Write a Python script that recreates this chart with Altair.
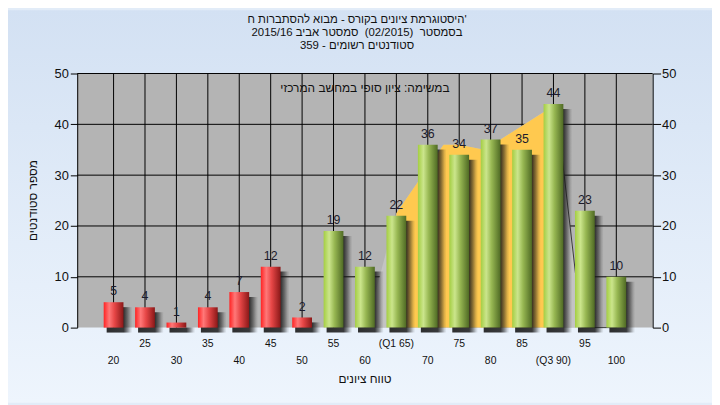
import altair as alt
import pandas as pd

FONT = "Liberation Sans"
NARROW = "Liberation Sans Narrow, Liberation Sans"

# ---- data ----
categories = [20, 25, 30, 35, 40, 45, 50, 55, 60, 65, 70, 75, 80, 85, 90, 95, 100]
counts = [5, 4, 1, 4, 7, 12, 2, 19, 12, 22, 36, 34, 37, 35, 44, 23, 10]
tick_labels = ["20", "25", "30", "35", "40", "45", "50", "55", "60", "(Q1 65)",
               "70", "75", "80", "85", "(Q3 90)", "95", "100"]
y_ticks = [0, 10, 20, 30, 40, 50]
pass_from = 55

# background distribution shape (light gray) and inter-quartile part (yellow)
shape_x = [60.2, 65, 72.5, 75, 79, 90.4, 94.5, 100]
shape_y = [0, 22.5, 36, 36, 35, 44, 0, 0]
iqr_x = [65, 72.5, 75, 79, 90]
iqr_y = [22.5, 36, 36, 35, 43.6]
edge_x = [90.4, 94.5, 100]
edge_y = [44, 0, 0]

NB = "\u00a0"
title_lines = ["היסטוגרמת ציונים בקורס - מבוא להסתברות ח'",
               "בסמסטר " + NB + "(02/2015) " + NB + "סמסטר אביב 2015/16",
               "סטודנטים רשומים - 359"]
note_text = "במשימה: ציון סופי במחשב המרכזי"
x_title = "טווח ציונים"
y_title = "מספר סטודנטים"

# ---- layout ----
W, H = 582, 257
PL, PT, PR, PB = 70, 64, 60, 76

df = pd.DataFrame({"score": categories, "count": counts,
                   "label": [str(c) for c in counts], "tick": tick_labels})
df["row"] = [i % 2 for i in range(len(categories))]
df_red = df[df["score"] < pass_from]
df_green = df[df["score"] >= pass_from]

xs = alt.Scale(domain=[15, 105], nice=False, zero=False)
ys = alt.Scale(domain=[0, 50], nice=False)

def X(field):
    return alt.X(field, type="quantitative", scale=xs, axis=None)

def Y(field):
    return alt.Y(field, type="quantitative", scale=ys, axis=None)

one = pd.DataFrame({"k": [0]})

bg_grad = alt.LinearGradient(gradient="linear", x1=0, x2=0, y1=0, y2=1, stops=[
    alt.GradientStop(color="#d3e1f3", offset=0),
    alt.GradientStop(color="#eef5fd", offset=1)])
red_grad = alt.LinearGradient(gradient="linear", x1=0, x2=1, y1=0, y2=0, stops=[
    alt.GradientStop(color="#ff2323", offset=0),
    alt.GradientStop(color="#ff7878", offset=0.28),
    alt.GradientStop(color="#e64646", offset=0.55),
    alt.GradientStop(color="#8a1818", offset=1)])
green_grad = alt.LinearGradient(gradient="linear", x1=0, x2=1, y1=0, y2=0, stops=[
    alt.GradientStop(color="#a4ce42", offset=0),
    alt.GradientStop(color="#cbe58c", offset=0.28),
    alt.GradientStop(color="#97b752", offset=0.55),
    alt.GradientStop(color="#4f6a24", offset=1)])
shadow_grad = alt.LinearGradient(gradient="linear", x1=0, x2=1, y1=0, y2=0, stops=[
    alt.GradientStop(color="rgba(25,25,25,0.9)", offset=0),
    alt.GradientStop(color="rgba(25,25,25,0.85)", offset=0.66),
    alt.GradientStop(color="rgba(25,25,25,0.5)", offset=0.8),
    alt.GradientStop(color="rgba(25,25,25,0.15)", offset=0.92),
    alt.GradientStop(color="rgba(25,25,25,0)", offset=1)])

bg = alt.Chart(one).mark_rect(color=bg_grad).encode(
    x=alt.value(-PL), x2=alt.value(W + PR), y=alt.value(-PT), y2=alt.value(H + PB))
plot_bg = alt.Chart(one).mark_rect(color="#b4b4b4").encode(
    x=alt.value(0), x2=alt.value(W), y=alt.value(0), y2=alt.value(H))

hgrid = alt.Chart(pd.DataFrame({"v": y_ticks[1:]})).mark_rule(
    color="black", strokeWidth=1).encode(y=Y("v"))
vgrid = alt.Chart(df).mark_rule(color="black", strokeWidth=1).encode(x=X("score"))

shape = alt.Chart(pd.DataFrame({"x": shape_x, "y": shape_y})).mark_area(
    color="#c3c3c3").encode(x=X("x"), y=Y("y"))
iqr = alt.Chart(pd.DataFrame({"x": iqr_x, "y": iqr_y})).mark_area(
    color="#ffc94f").encode(x=X("x"), y=Y("y"))
edge = alt.Chart(pd.DataFrame({"x": edge_x, "y": edge_y})).mark_line(
    color="#3a3a3a", strokeWidth=1).encode(x=X("x"), y=Y("y"))

shadow = alt.Chart(df).mark_bar(size=26, xOffset=6, yOffset=5, y2Offset=4,
                                color=shadow_grad).encode(x=X("score"), y=Y("count"))
red_bars = alt.Chart(df_red).mark_bar(size=20, color=red_grad).encode(
    x=X("score"), y=Y("count"))
green_bars = alt.Chart(df_green).mark_bar(size=20, color=green_grad).encode(
    x=X("score"), y=Y("count"))

values = alt.Chart(df).mark_text(font=NARROW, fontSize=12.5, color="#1c1c2c",
                                 baseline="alphabetic", dy=-7).encode(
    x=X("score"), y=Y("count"), text="label:N")

ticks_up = alt.Chart(df[df["row"] == 1]).mark_text(
    font=FONT, fontSize=10.5, color="#111", baseline="middle").encode(
    x=X("score"), y=alt.value(H + 16.5), text="tick:N")
ticks_low = alt.Chart(df[df["row"] == 0]).mark_text(
    font=FONT, fontSize=10.5, color="#111", baseline="middle").encode(
    x=X("score"), y=alt.value(H + 33.5), text="tick:N")

txt = dict(font=FONT, fontSize=12, color="#111")
title = alt.Chart(one).mark_text(text=title_lines, lineHeight=13, baseline="top",
                                 align="center", font=FONT, fontSize=11.5,
                                 color="#111").encode(
    x=alt.value(283), y=alt.value(-60))
note = alt.Chart(one).mark_text(text=note_text, baseline="middle", **txt).encode(
    x=alt.value(W / 2), y=alt.value(14.5))
xt = alt.Chart(one).mark_text(text=x_title, baseline="middle", **txt).encode(
    x=alt.value(W / 2), y=alt.value(H + 52.5))
yt = alt.Chart(one).mark_text(text=y_title, baseline="middle", angle=270, **txt).encode(
    x=alt.value(-45), y=alt.value(H / 2))

axis_common = dict(domainColor="black", domainWidth=1, tickColor="black",
                   labelFont=FONT, labelColor="#111", grid=False, zindex=1, title=None)

left_axis = alt.Chart(df).mark_point(opacity=0).encode(
    x=alt.X("score:Q", scale=xs,
            axis=alt.Axis(values=categories, labels=False, tickSize=5, **axis_common)),
    y=alt.Y("count:Q", scale=ys,
            axis=alt.Axis(values=y_ticks, tickSize=7, labelFontSize=13, labelPadding=2,
                          **axis_common)))
right_axis = alt.Chart(df).mark_point(opacity=0).encode(
    x=X("score"),
    y=alt.Y("count:Q", scale=ys,
            axis=alt.Axis(values=y_ticks, orient="right", tickSize=8, labelFontSize=13,
                          labelPadding=1, **axis_common)))

chart = alt.layer(
    bg, plot_bg, hgrid, vgrid, shape, iqr, edge, shadow, red_bars, green_bars,
    values, ticks_up, ticks_low, title, note, xt, yt, left_axis, right_axis
).resolve_axis(y="independent").properties(
    width=W, height=H,
    autosize=alt.AutoSizeParams(type="none"),
    padding={"left": PL, "top": PT, "right": PR, "bottom": PB},
    background="#e2ecf8",
).configure_view(strokeWidth=0)

chart.save("out.html", embed_options={"renderer": "svg", "actions": False})
